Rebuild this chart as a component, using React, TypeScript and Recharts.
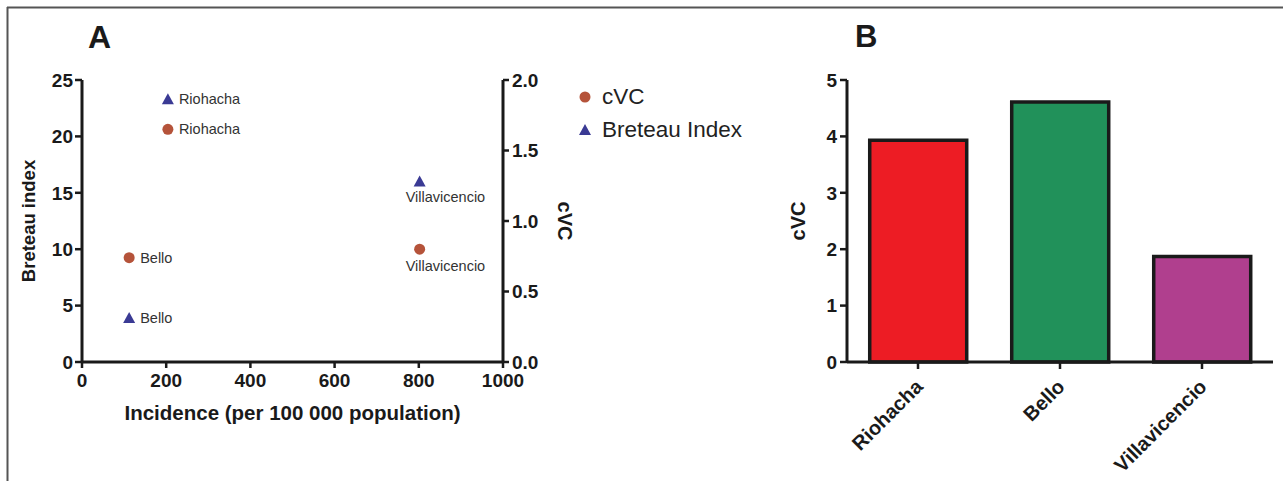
import React from 'react';
import {
  ScatterChart, Scatter, BarChart, Bar, Cell, XAxis, YAxis, Legend,
} from 'recharts';

const cities = ['Riohacha', 'Bello', 'Villavicencio'];
const incidence = [204, 112, 802];
const breteauIndex = [23.3, 3.9, 16.0];
const cvcScatter = [1.65, 0.74, 0.8];
const cvcBars = [3.93, 4.61, 1.87];

const incidenceTicks = [0, 200, 400, 600, 800, 1000];
const breteauTicks = [0, 5, 10, 15, 20, 25];
const cvcTicksA = [0, 0.5, 1, 1.5, 2];
const cvcTicksB = [0, 1, 2, 3, 4, 5];

const barColors = ['#ED1C24', '#21915A', '#B03F8E'];
const CIRCLE = '#B5533A';
const TRIANGLE = '#3A3A94';
const INK = '#1a1a1a';
const FONT = '"Liberation Sans", Arial, Helvetica, sans-serif';

const cvcPoints = cities.map((name, i) => ({ name, x: incidence[i], y: cvcScatter[i] }));
const biPoints = cities.map((name, i) => ({ name, x: incidence[i], y: breteauIndex[i] }));
const barData = cities.map((name, i) => ({ name, cvc: cvcBars[i] }));

const tickStyle = { fill: INK, fontSize: 19, fontWeight: 700, fontFamily: FONT };
const axisLine = { stroke: INK, strokeWidth: 3 };
const tickLine = { stroke: INK, strokeWidth: 2.5 };
const title = (size: number) => ({ textAnchor: 'middle', fontSize: size, fontWeight: 700, fill: INK, fontFamily: FONT } as const);

// Villavicencio sits near the right axis, so its label goes under the marker
function pointLabel(name: string, cx: number, cy: number, dyBelow: number) {
  const below = name === 'Villavicencio';
  return (
    <text
      x={below ? cx - 14 : cx + 11}
      y={below ? cy + dyBelow : cy}
      dy="0.35em"
      textAnchor="start"
      fontSize={14.5}
      fill="#333"
      fontFamily={FONT}
    >
      {name}
    </text>
  );
}

function CircleShape(props: any) {
  const { cx, cy, payload } = props;
  return (
    <g>
      <circle cx={cx} cy={cy} r={5.5} fill={CIRCLE} />
      {pointLabel(payload.name, cx, cy, 17)}
    </g>
  );
}

function TriangleShape(props: any) {
  const { cx, cy, payload } = props;
  return (
    <g>
      <polygon points={`${cx},${cy - 6} ${cx + 6},${cy + 5} ${cx - 6},${cy + 5}`} fill={TRIANGLE} />
      {pointLabel(payload.name, cx, cy, 15)}
    </g>
  );
}

function LegendContent({ payload }: any) {
  const items = [...(payload || [])].sort((a: any, b: any) => (a.value === 'cVC' ? -1 : b.value === 'cVC' ? 1 : 0));
  return (
    <div style={{ fontFamily: FONT }}>
      {items.map((p: any, i: number) => (
        <div key={i} style={{ display: 'flex', alignItems: 'center', height: 33 }}>
          <svg width={24} height={14}>
            {p.value === 'cVC'
              ? <circle cx={7} cy={7} r={5.5} fill={CIRCLE} />
              : <polygon points="7,1 13,12 1,12" fill={TRIANGLE} />}
          </svg>
          <span style={{ fontSize: 22.5, color: '#222' }}>{p.value}</span>
        </div>
      ))}
    </div>
  );
}

function CityTick({ x, y, payload }: any) {
  return (
    <text
      x={x + 6}
      y={y + 17}
      transform={`rotate(-45, ${x + 6}, ${y + 17})`}
      textAnchor="end"
      fill={INK}
      fontSize={20}
      fontWeight={700}
      fontFamily={FONT}
    >
      {payload.value}
    </text>
  );
}

export default function App() {
  return (
    <div style={{ position: 'absolute', left: 0, top: 0, width: 1283, height: 481, background: '#fff', fontFamily: FONT }}>
      <svg width={1283} height={481} style={{ position: 'absolute', left: 0, top: 0 }}>
        <line x1={7} y1={7.5} x2={1283} y2={7.5} stroke="#555" strokeWidth={2} />
        <line x1={7.5} y1={7} x2={7.5} y2={481} stroke="#555" strokeWidth={2} />
        <text x={88} y={48} fontSize={32} fontWeight={700} fill={INK} fontFamily={FONT}>A</text>
        <text x={855} y={47} fontSize={31} fontWeight={700} fill={INK} fontFamily={FONT}>B</text>
      </svg>

      <div style={{ position: 'absolute', left: 0, top: 0 }}>
        <ScatterChart width={780} height={481} margin={{ top: 80, right: 207, bottom: 59, left: 0 }}>
          <XAxis
            type="number"
            dataKey="x"
            domain={[0, 1000]}
            ticks={incidenceTicks}
            tick={tickStyle}
            axisLine={axisLine}
            tickLine={tickLine}
            tickSize={6}
            tickMargin={6}
            height={60}
            label={{ value: 'Incidence (per 100 000 population)', position: 'insideBottom', offset: 2, style: title(20.5) }}
          />
          <YAxis
            yAxisId="left"
            type="number"
            dataKey="y"
            domain={[0, 25]}
            ticks={breteauTicks}
            tick={tickStyle}
            axisLine={axisLine}
            tickLine={tickLine}
            tickSize={7}
            tickMargin={2}
            width={82}
            label={{ value: 'Breteau index', angle: -90, position: 'insideLeft', offset: 28, style: title(18.5) }}
          />
          <YAxis
            yAxisId="right"
            orientation="right"
            type="number"
            dataKey="y"
            domain={[0, 2]}
            ticks={cvcTicksA}
            tickFormatter={(v: number) => v.toFixed(1)}
            tick={tickStyle}
            axisLine={axisLine}
            tickLine={tickLine}
            tickSize={6}
            tickMargin={3}
            width={70}
            label={{ value: 'cVC', angle: 90, position: 'insideRight', offset: 8, style: title(20) }}
          />
          <Legend
            layout="vertical"
            align="center"
            verticalAlign="middle"
            content={<LegendContent />}
            wrapperStyle={{ position: 'absolute', left: 578, top: 80, width: 200, height: 70 }}
          />
          <Scatter name="cVC" data={cvcPoints} yAxisId="right" fill={CIRCLE} shape={CircleShape} isAnimationActive={false} />
          <Scatter name="Breteau Index" data={biPoints} yAxisId="left" fill={TRIANGLE} shape={TriangleShape} isAnimationActive={false} />
        </ScatterChart>
      </div>

      <div style={{ position: 'absolute', left: 780, top: 0 }}>
        <BarChart width={503} height={481} data={barData} margin={{ top: 80, right: 10, bottom: 19, left: 0 }} barCategoryGap="16%">
          <XAxis
            dataKey="name"
            tick={<CityTick />}
            axisLine={axisLine}
            tickLine={tickLine}
            tickSize={7}
            tickMargin={2}
            height={100}
            interval={0}
          />
          <YAxis
            domain={[0, 5]}
            ticks={cvcTicksB}
            tick={tickStyle}
            axisLine={axisLine}
            tickLine={tickLine}
            tickSize={7}
            tickMargin={3}
            width={67}
            label={{ value: 'cVC', angle: -90, position: 'insideLeft', offset: 18, style: title(20) }}
          />
          <Bar dataKey="cvc" stroke={INK} strokeWidth={3.5} isAnimationActive={false}>
            {barData.map((_, i) => <Cell key={i} fill={barColors[i]} />)}
          </Bar>
        </BarChart>
      </div>
    </div>
  );
}
